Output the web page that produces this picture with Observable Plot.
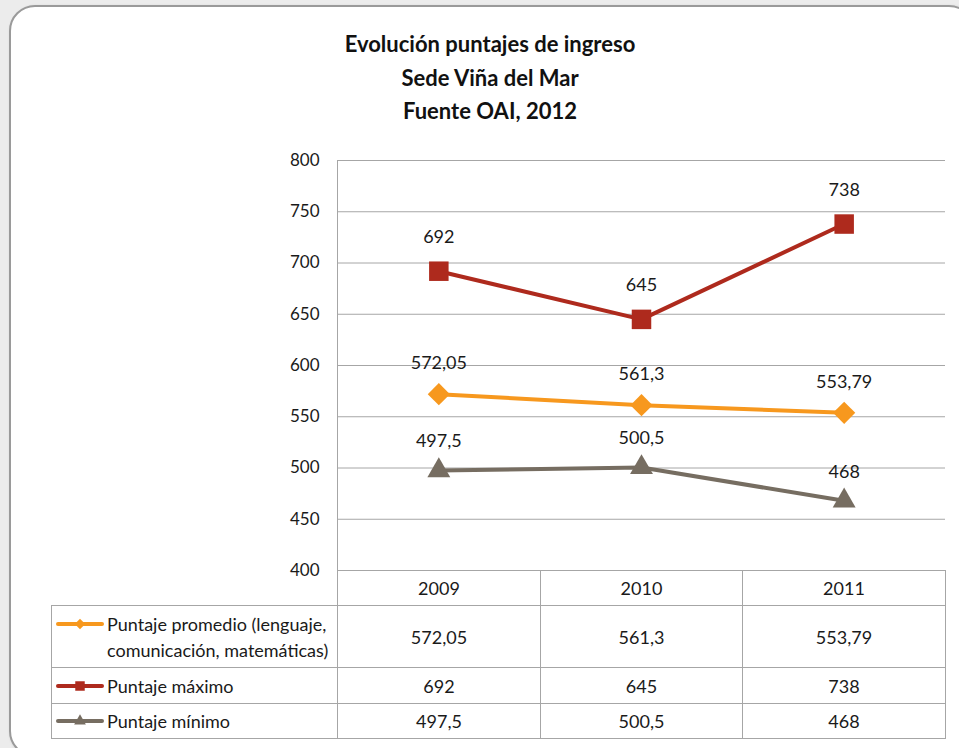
<!DOCTYPE html>
<html>
<head>
<meta charset="utf-8">
<script src="https://cdn.jsdelivr.net/npm/d3@7"></script>
<script src="https://cdn.jsdelivr.net/npm/@observablehq/plot@0.6"></script>
<style>
  html, body { margin: 0; padding: 0; }
  body { width: 959px; height: 748px; background: #ececec; position: relative; overflow: hidden; font-family: Lato, "Noto Sans", sans-serif; color: #1a1a1a; }
  #frame { position: absolute; left: 9px; top: 5px; width: 966px; height: 752px; background: #fff; border: 2px solid #9a9a9a; border-radius: 26px; box-sizing: border-box; box-shadow: 1px 1px 3px rgba(0,0,0,0.15); }
  #title { position: absolute; left: 240px; width: 500px; top: 27px; text-align: center; font-weight: bold; font-size: 22px; line-height: 33.5px; color: #111; }
  #chart { position: absolute; left: 0; top: 150px; }
  #tbl { position: absolute; left: 0; top: 0; font-size: 18px; color: #1a1a1a; }
  .cell { position: absolute; box-sizing: border-box; border: 1px solid #a6a6a6; display: flex; align-items: center; justify-content: center; }
  .cell.lab { justify-content: flex-start; }
  .labwrap { display: flex; align-items: flex-start; }
  .labwrap svg { flex: none; margin-left: 4px; margin-right: 3px; }
  .labtext { white-space: pre-line; line-height: 26px; }
</style>
</head>
<body>
<div id="frame"></div>
<div id="title">Evolución puntajes de ingreso<br>Sede Viña del Mar<br>Fuente OAI, 2012</div>
<div id="chart"></div>
<div id="tbl"></div>
<script>
const years = [2009, 2010, 2011];
const seriesLabels = ["Puntaje promedio (lenguaje,\ncomunicación, matemáticas)", "Puntaje máximo", "Puntaje mínimo"];
const promedio = [572.05, 561.3, 553.79];
const maximo = [692, 645, 738];
const minimo = [497.5, 500.5, 468];
const yTicks = [400, 450, 500, 550, 600, 650, 700, 750, 800];
const seriesColors = ["#f7981e", "#ae2a1d", "#766d61"];
const seriesSymbols = ["diamond2", "square", "triangle"];

const seriesValues = [promedio, maximo, minimo];
const fmt = v => String(v).replace(".", ",");
const data = [];
seriesValues.forEach((vals, i) => vals.forEach((v, j) => data.push({series: seriesLabels[i], year: years[j], value: v, idx: i})));

const chart = Plot.plot({
  width: 959,
  height: 430,
  marginLeft: 337,
  marginRight: 14,
  marginTop: 10,
  marginBottom: 10,
  style: {fontFamily: "Lato, 'Noto Sans', sans-serif", fontSize: "17px", color: "#1a1a1a", background: "transparent"},
  x: {domain: [years[0] - 0.5, years[years.length - 1] + 0.5], axis: null},
  y: {domain: [yTicks[0], yTicks[yTicks.length - 1]], ticks: yTicks, tickSize: 0, tickPadding: 18, label: null, tickFormat: d => String(d)},
  color: {domain: seriesLabels, range: seriesColors},
  symbol: {domain: seriesLabels, range: seriesSymbols},
  marks: [
    Plot.gridY(yTicks, {stroke: "#a6a6a6", strokeOpacity: 1}),
    Plot.ruleX([years[0] - 0.5], {stroke: "#a6a6a6", strokeWidth: 1}),
    Plot.line(data, {x: "year", y: "value", z: "series", stroke: "series", strokeWidth: 4}),
    Plot.dot(data.filter(d => d.idx === 0), {x: "year", y: "value", symbol: "series", fill: "series", r: 10, stroke: null}),
    Plot.dot(data.filter(d => d.idx === 1), {x: "year", y: "value", symbol: "series", fill: "series", r: 11, stroke: null}),
    Plot.dot(data.filter(d => d.idx === 2), {x: "year", y: "value", symbol: "series", fill: "series", r: 8.5, stroke: null}),
    Plot.text(data.filter(d => d.idx === 0), {x: "year", y: "value", text: d => fmt(d.value), dy: -31, fontSize: 18, fill: "#1a1a1a"}),
    Plot.text(data.filter(d => d.idx === 1), {x: "year", y: "value", text: d => fmt(d.value), dy: -34, fontSize: 18, fill: "#1a1a1a"}),
    Plot.text(data.filter(d => d.idx === 2), {x: "year", y: "value", text: d => fmt(d.value), dy: -29, fontSize: 18, fill: "#1a1a1a"})
  ]
});
document.getElementById("chart").appendChild(chart);

// data table (cells laid out on the plot's column edges)
const tbl = d3.select("#tbl");
const colX = [51, 337, 540, 742, 945];
const rowY = [570, 605, 667, 703, 738];
function cell(c, r, cls) {
  return tbl.append("div").attr("class", "cell" + (cls ? " " + cls : ""))
    .style("left", colX[c] + "px").style("top", rowY[r] + "px")
    .style("width", (colX[c + 1] - colX[c] + 1) + "px")
    .style("height", (rowY[r + 1] - rowY[r] + 1) + "px");
}
years.forEach((y, j) => cell(j + 1, 0).text(y));

seriesLabels.forEach((lab, i) => {
  const td = cell(0, i + 1, "lab");
  const wrap = td.append("div").attr("class", "labwrap");
  const sw = wrap.append("svg").attr("width", 48).attr("height", 26);
  sw.append("line").attr("x1", 2).attr("x2", 46).attr("y1", 13).attr("y2", 13)
    .attr("stroke", seriesColors[i]).attr("stroke-width", 4).attr("stroke-linecap", "round");
  const symType = [d3.symbolDiamond2, d3.symbolSquare, d3.symbolTriangle][i];
  const symSize = [70, 90, 60][i];
  sw.append("path").attr("d", d3.symbol(symType, symSize)()).attr("transform", "translate(24,13)").attr("fill", seriesColors[i]);
  wrap.append("div").attr("class", "labtext").text(lab);
  seriesValues[i].forEach((v, j) => cell(j + 1, i + 1).text(fmt(v)));
});
</script>
</body>
</html>
